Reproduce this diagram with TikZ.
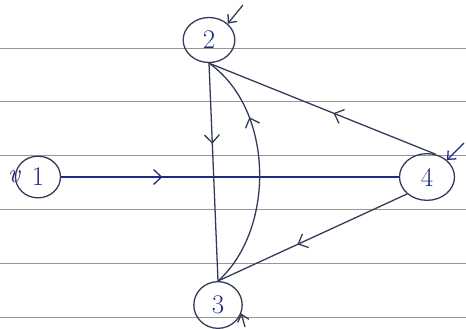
\documentclass[tikz,border=0pt]{standalone}
\usepackage{tikz}
\usetikzlibrary{arrows.meta,decorations.markings,shapes.geometric}
\definecolor{pen}{RGB}{50,58,88}
\definecolor{blueink}{RGB}{32,42,130}
\definecolor{rule}{RGB}{150,150,150}

\begin{document}
\begin{tikzpicture}[x=0.03cm,y=-0.03cm,
    vtx/.style={ellipse,draw=pen,line width=1.1pt,inner sep=0pt,
      minimum width=1.35cm,minimum height=1.25cm,
      font=\fontsize{23}{23}\selectfont,text=blueink},
    link/.style={draw=pen,line width=1.1pt},
    midarr/.style={postaction={decorate},decoration={markings,
      mark=at position #1 with {\arrow{Straight Barb[length=2.4mm,width=4.5mm]}}}}]
  \useasboundingbox (0,0) rectangle (466,329);
  \foreach \y in {48,101,155,209,263,317}
    \draw[rule,line width=0.7pt] (0,\y) -- (466,\y);

  \node[vtx,label={[text=blueink,font=\fontsize{23}{23}\selectfont\itshape,label distance=-8pt]left:v}] (n1) at (38,177) {1};
  \node[vtx,minimum width=1.55cm,minimum height=1.35cm] (n2) at (209,40) {2};
  \node[vtx,minimum width=1.45cm,minimum height=1.4cm] (n3) at (218,305) {3};
  \node[vtx,minimum width=1.65cm,minimum height=1.4cm] (n4) at (427,177) {4};

  \draw[link,draw=blueink,midarr=0.3] (n1.east) -- (n4.west);
  \draw[link,midarr=0.37] (n2.south) -- (n3.north);
  \draw[link,midarr=0.72] (n3.north) .. controls (275,230) and (275,110) .. (n2.south);
  \draw[link,midarr=0.45] (n4.70) -- (n2.south);
  \draw[link,midarr=0.58] (n4.south west) -- (n3.north);

  \coordinate (s2) at (243,5);
  \coordinate (s3) at (245,327);
  \coordinate (s4) at (464,143);
  \draw[link,-{Straight Barb[length=2mm,width=3.5mm]}] (s2) -- (n2.north east);
  \draw[link,-{Straight Barb[length=2mm,width=3.5mm]}] (s3) -- (n3.-20);
  \draw[link,draw=blueink,-{Straight Barb[length=2mm,width=3.5mm]}] (s4) -- (n4.north east);
\end{tikzpicture}
\end{document}
